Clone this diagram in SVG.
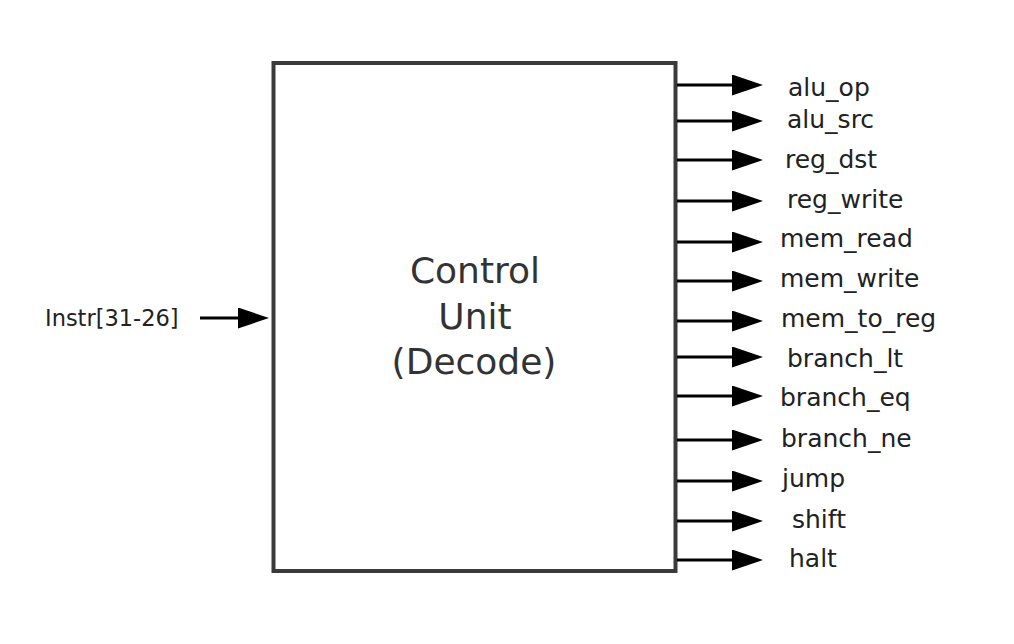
<svg xmlns="http://www.w3.org/2000/svg" width="1014" height="644" viewBox="0 0 1014 644">
<style>
.box{fill:#fff;stroke:#3a3a3a;stroke-width:4}
.title{font-family:"DejaVu Sans",sans-serif;font-size:36px;fill:#333;text-anchor:middle}
.lbl{font-family:"DejaVu Sans",sans-serif;font-size:25px;fill:#222}
.wire{stroke:#000;stroke-width:3;fill:none;marker-end:url(#ah)}
</style>
<defs>
<marker id="ah" markerUnits="userSpaceOnUse" markerWidth="31" markerHeight="21" refX="0" refY="10.5" orient="auto">
<path d="M0,0 L31,10.5 L0,21 z" fill="#000"/>
</marker>
</defs>
<rect width="1014" height="644" fill="#fff"/>
<g id="control_unit">
<rect class="box" x="273.5" y="63" width="402" height="508"/>
<text class="title" x="475" y="283">Control</text>
<text class="title" x="475" y="329">Unit</text>
<text class="title" x="474" y="374">(Decode)</text>
</g>
<g id="input">
<text class="lbl" x="45" y="326" style="font-size:22.5px">Instr[31-26]</text>
</g>
<g id="outputs">
<text class="lbl" x="788" y="96">alu_op</text>
<text class="lbl" x="787" y="128">alu_src</text>
<text class="lbl" x="785" y="168">reg_dst</text>
<text class="lbl" x="787" y="208">reg_write</text>
<text class="lbl" x="780" y="247">mem_read</text>
<text class="lbl" x="780" y="287">mem_write</text>
<text class="lbl" x="781" y="327">mem_to_reg</text>
<text class="lbl" x="787" y="367">branch_lt</text>
<text class="lbl" x="780" y="406">branch_eq</text>
<text class="lbl" x="781" y="447">branch_ne</text>
<text class="lbl" x="782" y="487">jump</text>
<text class="lbl" x="792" y="528">shift</text>
<text class="lbl" x="789" y="567">halt</text>
</g>
<g id="connectors">
<line class="wire" x1="200" y1="318" x2="238" y2="318"/>
<line class="wire" x1="677" y1="85" x2="732" y2="85"/>
<line class="wire" x1="677" y1="121" x2="732" y2="121"/>
<line class="wire" x1="677" y1="160" x2="732" y2="160"/>
<line class="wire" x1="677" y1="201" x2="732" y2="201"/>
<line class="wire" x1="677" y1="242" x2="732" y2="242"/>
<line class="wire" x1="677" y1="281" x2="732" y2="281"/>
<line class="wire" x1="677" y1="321" x2="732" y2="321"/>
<line class="wire" x1="677" y1="357" x2="732" y2="357"/>
<line class="wire" x1="677" y1="396" x2="732" y2="396"/>
<line class="wire" x1="677" y1="440" x2="732" y2="440"/>
<line class="wire" x1="677" y1="481" x2="732" y2="481"/>
<line class="wire" x1="677" y1="521" x2="732" y2="521"/>
<line class="wire" x1="677" y1="560" x2="732" y2="560"/>
</g>
</svg>
